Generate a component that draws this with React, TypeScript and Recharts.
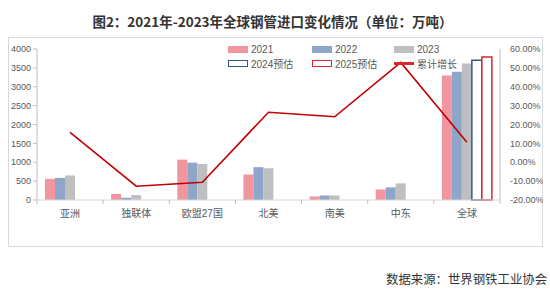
import React from "react";
import { ComposedChart, Bar, Line, XAxis, YAxis } from "recharts";

const categories = ["亚洲", "独联体", "欧盟27国", "北美", "南美", "中东", "全球"];
const imports2021 = [560, 160, 1070, 675, 95, 280, 3300];
const imports2022 = [585, 60, 990, 870, 120, 335, 3395];
const imports2023 = [650, 130, 955, 840, 120, 440, 3615];
const forecast2024 = [null, null, null, null, null, null, 3700];
const forecast2025 = [null, null, null, null, null, null, 3790];
const cumulativeGrowth = [15.8, -12.7, -10.6, 26.5, 24.1, 52.9, 10.6];
const leftTicks = [0, 500, 1000, 1500, 2000, 2500, 3000, 3500, 4000];
const rightTicks = [-20, -10, 0, 10, 20, 30, 40, 50, 60];

const data = categories.map((name, i) => ({
  name,
  y2021: imports2021[i],
  y2022: imports2022[i],
  y2023: imports2023[i],
  y2024: forecast2024[i],
  y2025: forecast2025[i],
  growth: cumulativeGrowth[i],
}));

const CHART_W = 535;
const CHART_H = 210;
const LEFT_W = 29;
const RIGHT_W = 43;
const BAND = (CHART_W - LEFT_W - RIGHT_W) / categories.length;

const PINK = "#f1959f";
const BLUE = "#8ea6c9";
const GRAY = "#bfbfbf";
const DARK_BLUE = "#2f5597";
const RED = "#d8262d";
const LINE_RED = "#c00000";
const AXIS = "#bfbfbf";
const TEXT = "#595959";

const CategoryTick = (props: any) => {
  const { x, y, payload, index } = props;
  return (
    <g>
      <line x1={x - BAND / 2} x2={x - BAND / 2} y1={y} y2={y + 4} stroke={AXIS} />
      {index === categories.length - 1 && (
        <line x1={x + BAND / 2} x2={x + BAND / 2} y1={y} y2={y + 4} stroke={AXIS} />
      )}
      <text x={x} y={y + 17} textAnchor="middle" fontSize={10} fill={TEXT}>
        {payload.value}
      </text>
    </g>
  );
};

const Swatch = ({ kind, color }: { kind: string; color: string }) => {
  if (kind === "fill")
    return <span style={{ display: "inline-block", width: 20, height: 7, background: color, marginRight: 3 }} />;
  if (kind === "outline")
    return (
      <span
        style={{
          display: "inline-block",
          width: 20,
          height: 7,
          border: `1.5px solid ${color}`,
          boxSizing: "border-box",
          marginRight: 3,
        }}
      />
    );
  return <span style={{ display: "inline-block", width: 20, height: 3, background: color, marginRight: 3 }} />;
};

const legendItems = [
  { label: "2021", kind: "fill", color: PINK },
  { label: "2022", kind: "fill", color: BLUE },
  { label: "2023", kind: "fill", color: GRAY },
  { label: "2024预估", kind: "outline", color: DARK_BLUE },
  { label: "2025预估", kind: "outline", color: RED },
  { label: "累计增长", kind: "line", color: RED },
];

export default function App() {
  return (
    <div
      style={{
        position: "absolute",
        left: 0,
        top: 0,
        width: 550,
        height: 291,
        background: "#fff",
        fontFamily: "'Liberation Sans', 'Noto Sans CJK SC', sans-serif",
      }}
    >
      <div
        style={{
          position: "absolute",
          left: 0,
          top: 11,
          width: 545,
          textAlign: "center",
          fontSize: 13.5,
          fontWeight: "bold",
          color: "#333",
          fontFamily: "'Noto Sans CJK SC', sans-serif",
        }}
      >
        图2：2021年-2023年全球钢管进口变化情况（单位：万吨）
      </div>
      <div
        style={{
          position: "absolute",
          left: 8,
          top: 37,
          width: CHART_W,
          height: CHART_H,
          border: "1px solid #d9d9d9",
          boxSizing: "border-box",
        }}
      />
      <div style={{ position: "absolute", left: 8, top: 37 }}>
        <ComposedChart
          width={CHART_W}
          height={CHART_H}
          data={data}
          margin={{ top: 12, right: 0, bottom: 0, left: 0 }}
          barGap={0}
          barSize={10}
        >
          <XAxis
            dataKey="name"
            interval={0}
            tickLine={false}
            tickSize={0}
            tickMargin={0}
            axisLine={{ stroke: "#d9d9d9" }}
            height={47}
            tick={<CategoryTick />}
          />
          <YAxis
            yAxisId="left"
            width={LEFT_W}
            domain={[0, 4000]}
            ticks={leftTicks}
            interval={0}
            axisLine={{ stroke: AXIS }}
            tickLine={{ stroke: AXIS }}
            tickSize={4}
            tickMargin={2}
            tick={{ fontSize: 9, fill: TEXT }}
          />
          <YAxis
            yAxisId="right"
            orientation="right"
            width={RIGHT_W}
            domain={[-20, 60]}
            ticks={rightTicks}
            interval={0}
            axisLine={{ stroke: AXIS }}
            tickLine={false}
            tickMargin={4}
            tick={{ fontSize: 9, fill: TEXT }}
            tickFormatter={(v: number) => `${v.toFixed(2)}%`}
          />
          <Bar yAxisId="left" dataKey="y2021" fill={PINK} isAnimationActive={false} />
          <Bar yAxisId="left" dataKey="y2022" fill={BLUE} isAnimationActive={false} />
          <Bar yAxisId="left" dataKey="y2023" fill={GRAY} isAnimationActive={false} />
          <Bar yAxisId="left" dataKey="y2024" fill="#fff" stroke={DARK_BLUE} strokeWidth={1.5} isAnimationActive={false} />
          <Bar yAxisId="left" dataKey="y2025" fill="#fff" stroke={RED} strokeWidth={1.5} isAnimationActive={false} />
          <Line
            yAxisId="right"
            dataKey="growth"
            stroke={LINE_RED}
            strokeWidth={1.6}
            dot={false}
            activeDot={false}
            isAnimationActive={false}
          />
        </ComposedChart>
      </div>
      <div
        style={{
          position: "absolute",
          left: 228,
          top: 42,
          display: "grid",
          gridTemplateColumns: "84px 82px 90px",
          gridAutoRows: "14px",
          fontSize: 10,
          color: TEXT,
        }}
      >
        {legendItems.map((item) => (
          <div key={item.label} style={{ display: "flex", alignItems: "center", whiteSpace: "nowrap" }}>
            <Swatch kind={item.kind} color={item.color} />
            <span>{item.label}</span>
          </div>
        ))}
      </div>
      <div
        style={{
          position: "absolute",
          left: 386,
          top: 270,
          fontSize: 12.4,
          color: "#333",
          fontFamily: "'Noto Sans CJK SC', sans-serif",
          whiteSpace: "nowrap",
        }}
      >
        数据来源：世界钢铁工业协会
      </div>
    </div>
  );
}
